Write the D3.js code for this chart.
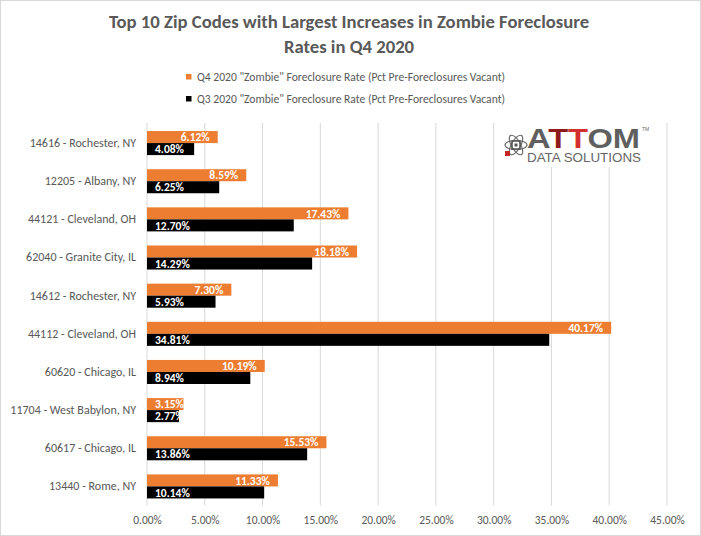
<!DOCTYPE html>
<html><head><meta charset="utf-8">
<script src="https://cdn.jsdelivr.net/npm/d3@7/dist/d3.min.js"></script>
<style>body{margin:0;background:#fff}svg{display:block}</style>
</head><body><svg id="c" width="701" height="536"></svg>
<script>
const categories = ["14616 - Rochester, NY","12205 - Albany, NY","44121 - Cleveland, OH","62040 - Granite City, IL","14612 - Rochester, NY","44112 - Cleveland, OH","60620 - Chicago, IL","11704 - West Babylon, NY","60617 - Chicago, IL","13440 - Rome, NY"];
const q4Values = [6.12, 8.59, 17.43, 18.18, 7.30, 40.17, 10.19, 3.15, 15.53, 11.33];
const q3Values = [4.08, 6.25, 12.70, 14.29, 5.93, 34.81, 8.94, 2.77, 13.86, 10.14];
const seriesNames = ['Q4 2020 "Zombie" Foreclosure Rate (Pct Pre-Foreclosures Vacant)', 'Q3 2020 "Zombie" Foreclosure Rate (Pct Pre-Foreclosures Vacant)'];
const xTicks = [0,5,10,15,20,25,30,35,40,45];
const titleLines = ["Top 10 Zip Codes with Largest Increases in Zombie Foreclosure", "Rates in Q4 2020"];

const FONT = "Carlito, Calibri, Lato, sans-serif";
const colors = ["#ED7D31", "#000000"];
const svg = d3.select("#c");
svg.append("rect").attr("x",0.5).attr("y",0.5).attr("width",700).attr("height",535).attr("fill","#fff").attr("stroke","#d9d9d9");

const x = d3.scaleLinear().domain([0,45]).range([147,667]);
const y = d3.scaleBand().domain(categories).range([124,505.5]).paddingInner(0.37).paddingOuter(0.185);
const ys = d3.scaleBand().domain([0,1]).range([0,y.bandwidth()]);

// gridlines
svg.append("g").selectAll("line").data(xTicks).join("line")
  .attr("x1",d=>x(d)).attr("x2",d=>x(d)).attr("y1",123).attr("y2",505.5)
  .attr("stroke","#d9d9d9").attr("stroke-width",1);

// x axis labels
const xAxis = d3.axisBottom(x).tickValues(xTicks).tickSize(0).tickPadding(0).tickFormat(d=>d.toFixed(2)+"%");
const gx = svg.append("g").attr("transform","translate(0,515)").call(xAxis);
gx.select(".domain").remove();
gx.selectAll("text").attr("font-family",FONT).attr("font-size",11.5).attr("fill","#595959").attr("dy","0.35em").attr("y",5);

// y axis labels
const yAxis = d3.axisLeft(y).tickSize(0).tickPadding(0);
const gy = svg.append("g").attr("transform","translate(136,0)").call(yAxis);
gy.select(".domain").remove();
gy.selectAll("text").attr("font-family",FONT).attr("font-size",12).attr("fill","#595959");

// logo background
const logo = svg.append("g");
logo.append("rect").attr("x",499).attr("y",123).attr("width",156).attr("height",44).attr("fill","#fff");

// bars
const series = [q4Values, q3Values];
series.forEach((vals, si) => {
  const g = svg.append("g");
  g.selectAll("rect").data(vals).join("rect")
    .attr("x", x(0))
    .attr("y", (d,i)=>y(categories[i]) + ys(si))
    .attr("width", d=>x(d)-x(0))
    .attr("height", ys.bandwidth())
    .attr("fill", colors[si]);
  const t = g.selectAll("text").data(vals).join("text")
    .attr("y", (d,i)=>y(categories[i]) + ys(si) + ys.bandwidth()/2)
    .attr("dy","0.36em")
    .attr("font-family",FONT).attr("font-size",11.5).attr("font-weight","bold")
    .attr("fill","#fff")
    .text(d=>d.toFixed(2)+"%");
  if (si === 0) {
    t.attr("text-anchor","start").each(function(d){
      const w = this.getComputedTextLength();
      d3.select(this).attr("x", Math.max(x(d) - 8 - w, x(0) + 8));
    });
  } else {
    t.attr("x", x(0) + 8);
  }
});

// title
svg.append("g").selectAll("text").data(titleLines).join("text")
  .attr("x",349).attr("y",(d,i)=>28 + i*24.5)
  .attr("text-anchor","middle").attr("font-family",FONT).attr("font-size",18.7).attr("font-weight","bold")
  .attr("fill","#595959").text(d=>d);

// legend
const leg = svg.append("g").selectAll("g").data(seriesNames).join("g")
  .attr("transform",(d,i)=>`translate(186,${77 + i*22})`);
leg.append("rect").attr("x",0).attr("y",-3).attr("width",5.5).attr("height",5.5).attr("fill",(d,i)=>colors[i]);
leg.append("text").attr("x",11).attr("dy","0.35em").attr("font-family",FONT).attr("font-size",11.6)
  .attr("fill","#595959").text(d=>d);

// logo
const cx = 516, cy = 145;
[0,60,120].forEach(a=>{
  logo.append("ellipse").attr("cx",cx).attr("cy",cy).attr("rx",11).attr("ry",4.5)
    .attr("transform",`rotate(${a},${cx},${cy})`).attr("fill","none").attr("stroke","#666").attr("stroke-width",1.1);
});
logo.append("rect").attr("x",cx-4).attr("y",cy-4).attr("width",8).attr("height",8).attr("fill","none").attr("stroke","#555").attr("stroke-width",1.5);
logo.append("rect").attr("x",cx-1.5).attr("y",cy-1.5).attr("width",3).attr("height",3).attr("fill","#555");
logo.append("rect").attr("x",cx-11).attr("y",cy+6).attr("width",5).attr("height",5).attr("fill","#c62828");
const at = logo.append("text").attr("x",527).attr("y",148).attr("font-family","Liberation Sans, Arial, sans-serif")
  .attr("font-size",27.5).attr("font-weight","bold").attr("textLength",113).attr("lengthAdjust","spacingAndGlyphs");
at.append("tspan").attr("fill","#5f5f5f").text("A");
at.append("tspan").attr("fill","#8e1b1b").text("T");
at.append("tspan").attr("fill","#d32f2f").text("T");
at.append("tspan").attr("fill","#5f5f5f").text("OM");
logo.append("text").attr("x",642).attr("y",131).attr("font-family","Liberation Sans, Arial, sans-serif").attr("font-size",5).attr("fill","#666").text("TM");
logo.append("text").attr("x",527).attr("y",162).attr("font-family","Liberation Sans Narrow, Liberation Sans, Arial, sans-serif")
  .attr("font-size",12).attr("fill","#666").attr("textLength",114).attr("lengthAdjust","spacingAndGlyphs").text("DATA SOLUTIONS");
</script></body></html>
